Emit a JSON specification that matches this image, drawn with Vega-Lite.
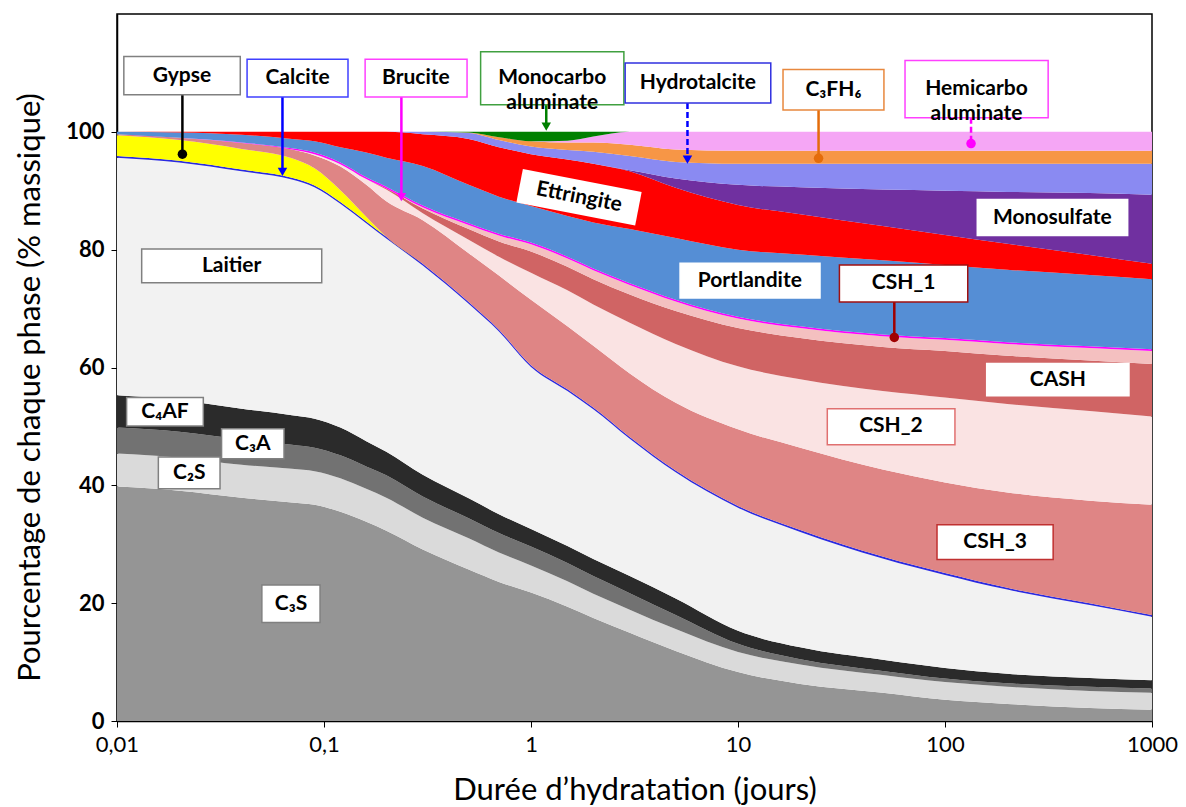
{
"$schema":"https://vega.github.io/schema/vega-lite/v6.json",
"width":1035,"height":707,"autosize":"none",
"padding":{"left":117,"top":14,"right":34,"bottom":86},
"background":"white",
"config":{"view":{"stroke":"#000","strokeWidth":1.5},"font":"Lato"},
"datasets":{
"phases":[{"p":"C3S","k":1},{"p":"C2S","k":2},{"p":"C3A","k":3},{"p":"C4AF","k":4},{"p":"Laitier","k":5},{"p":"Calcite","k":6},{"p":"Gypse","k":7},{"p":"CSH_3","k":8},{"p":"CSH_2","k":9},{"p":"CASH","k":10},{"p":"CSH_1","k":11},{"p":"Brucite","k":12},{"p":"Portlandite","k":13},{"p":"Ettringite","k":14},{"p":"Monosulfate","k":15},{"p":"Hydrotalcite","k":16},{"p":"C3FH6","k":17},{"p":"Hemicarbo","k":18},{"p":"Monocarbo","k":19}],
"labels":[
{"name":"Gypse","text":"Gypse","t0":0.01079,"t1":0.0394,"y0":106.3,"y1":112.8,"tx":0.0206,"ty":109.5},
{"name":"Calcite","text":"Calcite","t0":0.0425,"t1":0.1306,"y0":105.9,"y1":112.3,"tx":0.0745,"ty":109.1},
{"name":"Brucite","text":"Brucite","t0":0.158,"t1":0.491,"y0":105.9,"y1":112.3,"tx":0.278,"ty":109.1},
{"name":"Monocarbo","text":"Monocarbo\naluminate","t0":0.571,"t1":2.81,"y0":104.6,"y1":113.6,"tx":1.266,"ty":109.1},
{"name":"Hydrotalcite","text":"Hydrotalcite","t0":2.85,"t1":14.4,"y0":104.9,"y1":111.7,"tx":6.4,"ty":108.3},
{"name":"C3FH6","text":"C₃FH₆","t0":16.5,"t1":50.7,"y0":103.7,"y1":110.6,"tx":28.9,"ty":107.1},
{"name":"Hemicarbo","text":"Hemicarbo\naluminate","t0":64.1,"t1":315,"y0":102.4,"y1":112.1,"tx":142,"ty":107.3},
{"name":"Laitier","text":"Laitier","t0":0.01316,"t1":0.0975,"y0":74.4,"y1":80.1,"tx":0.0358,"ty":77.3},
{"name":"Portlandite","text":"Portlandite","t0":5.25,"t1":24.9,"y0":71.8,"y1":77.7,"tx":11.4,"ty":74.7},
{"name":"CSH_1","text":"CSH_1","t0":30.9,"t1":128.8,"y0":71.1,"y1":77.4,"tx":63.1,"ty":74.3},
{"name":"Monosulfate","text":"Monosulfate","t0":143.2,"t1":763,"y0":82.4,"y1":88.5,"tx":330,"ty":85.4},
{"name":"CASH","text":"CASH","t0":159,"t1":774,"y0":55.2,"y1":60.7,"tx":351,"ty":57.9},
{"name":"CSH_2","text":"CSH_2","t0":27.0,"t1":111.7,"y0":46.9,"y1":53.0,"tx":54.8,"ty":50.0},
{"name":"CSH_3","text":"CSH_3","t0":91.5,"t1":333,"y0":27.4,"y1":33.3,"tx":174.6,"ty":30.4},
{"name":"C4AF","text":"C₄AF","t0":0.01113,"t1":0.02612,"y0":50.05,"y1":54.9,"tx":0.01706,"ty":52.5},
{"name":"C3A","text":"C₃A","t0":0.032,"t1":0.0641,"y0":44.5,"y1":49.6,"tx":0.0453,"ty":47.1},
{"name":"C2S","text":"C₂S","t0":0.01584,"t1":0.03146,"y0":39.4,"y1":44.8,"tx":0.02233,"ty":42.1},
{"name":"C3S","text":"C₃S","t0":0.0501,"t1":0.0957,"y0":16.7,"y1":23.1,"tx":0.0693,"ty":19.9}
],
"leaders":[
{"name":"Gypse","t":0.0207,"ya":106.3,"yb":96.2,"end":"dot"},
{"name":"Calcite","t":0.063,"ya":105.9,"yb":93.2,"end":"arrow"},
{"name":"Brucite","t":0.2365,"ya":105.9,"yb":88.9,"end":"arrow"},
{"name":"Monocarbo","t":1.185,"ya":104.6,"yb":100.9,"end":"arrow"},
{"name":"Hydrotalcite","t":5.7,"ya":104.9,"yb":95.3,"end":"arrow"},
{"name":"C3FH6","t":24.5,"ya":103.7,"yb":95.5,"end":"dot"},
{"name":"Hemicarbo","t":133.6,"ya":102.4,"yb":98.0,"end":"dot"},
{"name":"CSH_1","t":56.9,"ya":71.1,"yb":65.1,"end":"dot"}
],
"ett":[{"t":1.706,"v":88.9,"text":"Ettringite"}]
},
"layer":[
{
"data":{"values":[
{"t":0.01,"p":"C3S","v":39.8},{"t":0.01,"p":"C2S","v":5.6},{"t":0.01,"p":"C3A","v":4.4},{"t":0.01,"p":"C4AF","v":5.5},{"t":0.01,"p":"Laitier","v":40.3},{"t":0.01,"p":"Calcite","v":0.3},{"t":0.01,"p":"Gypse","v":3.5},{"t":0.01,"p":"CSH_3","v":0.2},{"t":0.01,"p":"CSH_2","v":0},{"t":0.01,"p":"CASH","v":0},{"t":0.01,"p":"CSH_1","v":0},{"t":0.01,"p":"Brucite","v":0},{"t":0.01,"p":"Portlandite","v":0.4},{"t":0.01,"p":"Ettringite","v":0},{"t":0.01,"p":"Monosulfate","v":0},{"t":0.01,"p":"Hydrotalcite","v":0},{"t":0.01,"p":"C3FH6","v":0},{"t":0.01,"p":"Hemicarbo","v":0},{"t":0.01,"p":"Monocarbo","v":0},
{"t":0.02,"p":"C3S","v":39.1},{"t":0.02,"p":"C2S","v":5.6},{"t":0.02,"p":"C3A","v":4.4},{"t":0.02,"p":"C4AF","v":5.4},{"t":0.02,"p":"Laitier","v":40.3},{"t":0.02,"p":"Calcite","v":0.3},{"t":0.02,"p":"Gypse","v":3.5},{"t":0.02,"p":"CSH_3","v":0.4},{"t":0.02,"p":"CSH_2","v":0},{"t":0.02,"p":"CASH","v":0},{"t":0.02,"p":"CSH_1","v":0},{"t":0.02,"p":"Brucite","v":0},{"t":0.02,"p":"Portlandite","v":0.9},{"t":0.02,"p":"Ettringite","v":0.1},{"t":0.02,"p":"Monosulfate","v":0},{"t":0.02,"p":"Hydrotalcite","v":0},{"t":0.02,"p":"C3FH6","v":0},{"t":0.02,"p":"Hemicarbo","v":0},{"t":0.02,"p":"Monocarbo","v":0},
{"t":0.04,"p":"C3S","v":37.9},{"t":0.04,"p":"C2S","v":5.6},{"t":0.04,"p":"C3A","v":4.3},{"t":0.04,"p":"C4AF","v":5.2},{"t":0.04,"p":"Laitier","v":40.3},{"t":0.04,"p":"Calcite","v":0.3},{"t":0.04,"p":"Gypse","v":3.5},{"t":0.04,"p":"CSH_3","v":1.0},{"t":0.04,"p":"CSH_2","v":0},{"t":0.04,"p":"CASH","v":0},{"t":0.04,"p":"CSH_1","v":0},{"t":0.04,"p":"Brucite","v":0.1},{"t":0.04,"p":"Portlandite","v":1.3},{"t":0.04,"p":"Ettringite","v":0.5},{"t":0.04,"p":"Monosulfate","v":0},{"t":0.04,"p":"Hydrotalcite","v":0},{"t":0.04,"p":"C3FH6","v":0},{"t":0.04,"p":"Hemicarbo","v":0},{"t":0.04,"p":"Monocarbo","v":0},
{"t":0.07,"p":"C3S","v":37.1},{"t":0.07,"p":"C2S","v":5.7},{"t":0.07,"p":"C3A","v":4.1},{"t":0.07,"p":"C4AF","v":5.0},{"t":0.07,"p":"Laitier","v":40.0},{"t":0.07,"p":"Calcite","v":0.3},{"t":0.07,"p":"Gypse","v":3.3},{"t":0.07,"p":"CSH_3","v":1.5},{"t":0.07,"p":"CSH_2","v":0},{"t":0.07,"p":"CASH","v":0},{"t":0.07,"p":"CSH_1","v":0},{"t":0.07,"p":"Brucite","v":0.2},{"t":0.07,"p":"Portlandite","v":1.6},{"t":0.07,"p":"Ettringite","v":1.2},{"t":0.07,"p":"Monosulfate","v":0},{"t":0.07,"p":"Hydrotalcite","v":0},{"t":0.07,"p":"C3FH6","v":0},{"t":0.07,"p":"Hemicarbo","v":0},{"t":0.07,"p":"Monocarbo","v":0},
{"t":0.09,"p":"C3S","v":36.7},{"t":0.09,"p":"C2S","v":5.7},{"t":0.09,"p":"C3A","v":4.0},{"t":0.09,"p":"C4AF","v":4.9},{"t":0.09,"p":"Laitier","v":39.3},{"t":0.09,"p":"Calcite","v":0.3},{"t":0.09,"p":"Gypse","v":2.9},{"t":0.09,"p":"CSH_3","v":2.2},{"t":0.09,"p":"CSH_2","v":0.2},{"t":0.09,"p":"CASH","v":0},{"t":0.09,"p":"CSH_1","v":0},{"t":0.09,"p":"Brucite","v":0.3},{"t":0.09,"p":"Portlandite","v":1.9},{"t":0.09,"p":"Ettringite","v":1.6},{"t":0.09,"p":"Monosulfate","v":0},{"t":0.09,"p":"Hydrotalcite","v":0},{"t":0.09,"p":"C3FH6","v":0},{"t":0.09,"p":"Hemicarbo","v":0},{"t":0.09,"p":"Monocarbo","v":0},
{"t":0.12,"p":"C3S","v":35.5},{"t":0.12,"p":"C2S","v":5.7},{"t":0.12,"p":"C3A","v":3.9},{"t":0.12,"p":"C4AF","v":4.7},{"t":0.12,"p":"Laitier","v":38.0},{"t":0.12,"p":"Calcite","v":0.3},{"t":0.12,"p":"Gypse","v":2.0},{"t":0.12,"p":"CSH_3","v":4.0},{"t":0.12,"p":"CSH_2","v":0.4},{"t":0.12,"p":"CASH","v":0},{"t":0.12,"p":"CSH_1","v":0},{"t":0.12,"p":"Brucite","v":0.3},{"t":0.12,"p":"Portlandite","v":2.6},{"t":0.12,"p":"Ettringite","v":2.6},{"t":0.12,"p":"Monosulfate","v":0},{"t":0.12,"p":"Hydrotalcite","v":0},{"t":0.12,"p":"C3FH6","v":0},{"t":0.12,"p":"Hemicarbo","v":0},{"t":0.12,"p":"Monocarbo","v":0},
{"t":0.16,"p":"C3S","v":33.8},{"t":0.16,"p":"C2S","v":5.6},{"t":0.16,"p":"C3A","v":3.8},{"t":0.16,"p":"C4AF","v":4.3},{"t":0.16,"p":"Laitier","v":37.0},{"t":0.16,"p":"Calcite","v":0.3},{"t":0.16,"p":"Gypse","v":0.8},{"t":0.16,"p":"CSH_3","v":5.4},{"t":0.16,"p":"CSH_2","v":1.0},{"t":0.16,"p":"CASH","v":0},{"t":0.16,"p":"CSH_1","v":0},{"t":0.16,"p":"Brucite","v":0.3},{"t":0.16,"p":"Portlandite","v":4.2},{"t":0.16,"p":"Ettringite","v":3.5},{"t":0.16,"p":"Monosulfate","v":0},{"t":0.16,"p":"Hydrotalcite","v":0},{"t":0.16,"p":"C3FH6","v":0},{"t":0.16,"p":"Hemicarbo","v":0},{"t":0.16,"p":"Monocarbo","v":0},
{"t":0.2,"p":"C3S","v":32.3},{"t":0.2,"p":"C2S","v":5.6},{"t":0.2,"p":"C3A","v":3.8},{"t":0.2,"p":"C4AF","v":4.0},{"t":0.2,"p":"Laitier","v":36.2},{"t":0.2,"p":"Calcite","v":0.3},{"t":0.2,"p":"Gypse","v":0},{"t":0.2,"p":"CSH_3","v":6.0},{"t":0.2,"p":"CSH_2","v":2.0},{"t":0.2,"p":"CASH","v":0.2},{"t":0.2,"p":"CSH_1","v":0},{"t":0.2,"p":"Brucite","v":0.3},{"t":0.2,"p":"Portlandite","v":4.9},{"t":0.2,"p":"Ettringite","v":4.4},{"t":0.2,"p":"Monosulfate","v":0},{"t":0.2,"p":"Hydrotalcite","v":0},{"t":0.2,"p":"C3FH6","v":0},{"t":0.2,"p":"Hemicarbo","v":0},{"t":0.2,"p":"Monocarbo","v":0},
{"t":0.3,"p":"C3S","v":29.1},{"t":0.3,"p":"C2S","v":5.4},{"t":0.3,"p":"C3A","v":3.6},{"t":0.3,"p":"C4AF","v":3.7},{"t":0.3,"p":"Laitier","v":35.5},{"t":0.3,"p":"Calcite","v":0.3},{"t":0.3,"p":"Gypse","v":0},{"t":0.3,"p":"CSH_3","v":7.4},{"t":0.3,"p":"CSH_2","v":1.2},{"t":0.3,"p":"CASH","v":0.8},{"t":0.3,"p":"CSH_1","v":0.2},{"t":0.3,"p":"Brucite","v":0.3},{"t":0.3,"p":"Portlandite","v":6.7},{"t":0.3,"p":"Ettringite","v":5.4},{"t":0.3,"p":"Monosulfate","v":0},{"t":0.3,"p":"Hydrotalcite","v":0.4},{"t":0.3,"p":"C3FH6","v":0},{"t":0.3,"p":"Hemicarbo","v":0},{"t":0.3,"p":"Monocarbo","v":0},
{"t":0.5,"p":"C3S","v":25.7},{"t":0.5,"p":"C2S","v":5.3},{"t":0.5,"p":"C3A","v":3.4},{"t":0.5,"p":"C4AF","v":3.4},{"t":0.5,"p":"Laitier","v":33.0},{"t":0.5,"p":"Calcite","v":0.3},{"t":0.5,"p":"Gypse","v":0},{"t":0.5,"p":"CSH_3","v":8.3},{"t":0.5,"p":"CSH_2","v":2.3},{"t":0.5,"p":"CASH","v":1.8},{"t":0.5,"p":"CSH_1","v":0.7},{"t":0.5,"p":"Brucite","v":0.3},{"t":0.5,"p":"Portlandite","v":6.5},{"t":0.5,"p":"Ettringite","v":7.8},{"t":0.5,"p":"Monosulfate","v":0},{"t":0.5,"p":"Hydrotalcite","v":1.0},{"t":0.5,"p":"C3FH6","v":0.1},{"t":0.5,"p":"Hemicarbo","v":0},{"t":0.5,"p":"Monocarbo","v":0.1},
{"t":0.7,"p":"C3S","v":23.6},{"t":0.7,"p":"C2S","v":5.0},{"t":0.7,"p":"C3A","v":3.3},{"t":0.7,"p":"C4AF","v":3.2},{"t":0.7,"p":"Laitier","v":31.0},{"t":0.7,"p":"Calcite","v":0.3},{"t":0.7,"p":"Gypse","v":0},{"t":0.7,"p":"CSH_3","v":9.2},{"t":0.7,"p":"CSH_2","v":3.2},{"t":0.7,"p":"CASH","v":2.6},{"t":0.7,"p":"CSH_1","v":1.0},{"t":0.7,"p":"Brucite","v":0.3},{"t":0.7,"p":"Portlandite","v":6.3},{"t":0.7,"p":"Ettringite","v":8.4},{"t":0.7,"p":"Monosulfate","v":0},{"t":0.7,"p":"Hydrotalcite","v":1.2},{"t":0.7,"p":"C3FH6","v":0.5},{"t":0.7,"p":"Hemicarbo","v":0},{"t":0.7,"p":"Monocarbo","v":0.9},
{"t":1,"p":"C3S","v":21.8},{"t":1,"p":"C2S","v":4.6},{"t":1,"p":"C3A","v":3.2},{"t":1,"p":"C4AF","v":3.0},{"t":1,"p":"Laitier","v":27.5},{"t":1,"p":"Calcite","v":0.3},{"t":1,"p":"Gypse","v":0},{"t":1,"p":"CSH_3","v":11.1},{"t":1,"p":"CSH_2","v":4.6},{"t":1,"p":"CASH","v":3.6},{"t":1,"p":"CSH_1","v":1.2},{"t":1,"p":"Brucite","v":0.3},{"t":1,"p":"Portlandite","v":6.2},{"t":1,"p":"Ettringite","v":8.8},{"t":1,"p":"Monosulfate","v":0},{"t":1,"p":"Hydrotalcite","v":1.3},{"t":1,"p":"C3FH6","v":0.9},{"t":1,"p":"Hemicarbo","v":0},{"t":1,"p":"Monocarbo","v":1.6},
{"t":1.5,"p":"C3S","v":19.4},{"t":1.5,"p":"C2S","v":4.3},{"t":1.5,"p":"C3A","v":3.1},{"t":1.5,"p":"C4AF","v":2.9},{"t":1.5,"p":"Laitier","v":26.3},{"t":1.5,"p":"Calcite","v":0.3},{"t":1.5,"p":"Gypse","v":0},{"t":1.5,"p":"CSH_3","v":10.7},{"t":1.5,"p":"CSH_2","v":6.1},{"t":1.5,"p":"CASH","v":4.0},{"t":1.5,"p":"CSH_1","v":1.4},{"t":1.5,"p":"Brucite","v":0.3},{"t":1.5,"p":"Portlandite","v":6.9},{"t":1.5,"p":"Ettringite","v":9.6},{"t":1.5,"p":"Monosulfate","v":0},{"t":1.5,"p":"Hydrotalcite","v":1.6},{"t":1.5,"p":"C3FH6","v":1.3},{"t":1.5,"p":"Hemicarbo","v":0.3},{"t":1.5,"p":"Monocarbo","v":1.5},
{"t":2,"p":"C3S","v":17.5},{"t":2,"p":"C2S","v":4.1},{"t":2,"p":"C3A","v":3.0},{"t":2,"p":"C4AF","v":2.9},{"t":2,"p":"Laitier","v":25.4},{"t":2,"p":"Calcite","v":0.3},{"t":2,"p":"Gypse","v":0},{"t":2,"p":"CSH_3","v":10.5},{"t":2,"p":"CSH_2","v":7.0},{"t":2,"p":"CASH","v":4.3},{"t":2,"p":"CSH_1","v":1.5},{"t":2,"p":"Brucite","v":0.3},{"t":2,"p":"Portlandite","v":7.8},{"t":2,"p":"Ettringite","v":10.0},{"t":2,"p":"Monosulfate","v":0},{"t":2,"p":"Hydrotalcite","v":2.0},{"t":2,"p":"C3FH6","v":1.6},{"t":2,"p":"Hemicarbo","v":1.0},{"t":2,"p":"Monocarbo","v":0.8},
{"t":3,"p":"C3S","v":15.0},{"t":3,"p":"C2S","v":3.9},{"t":3,"p":"C3A","v":2.8},{"t":3,"p":"C4AF","v":2.9},{"t":3,"p":"Laitier","v":23.3},{"t":3,"p":"Calcite","v":0.3},{"t":3,"p":"Gypse","v":0},{"t":3,"p":"CSH_3","v":10.8},{"t":3,"p":"CSH_2","v":8.6},{"t":3,"p":"CASH","v":4.8},{"t":3,"p":"CSH_1","v":1.6},{"t":3,"p":"Brucite","v":0.3},{"t":3,"p":"Portlandite","v":9.2},{"t":3,"p":"Ettringite","v":9.8},{"t":3,"p":"Monosulfate","v":0.2},{"t":3,"p":"Hydrotalcite","v":2.4},{"t":3,"p":"C3FH6","v":1.9},{"t":3,"p":"Hemicarbo","v":2.2},{"t":3,"p":"Monocarbo","v":0},
{"t":5,"p":"C3S","v":11.9},{"t":5,"p":"C2S","v":3.7},{"t":5,"p":"C3A","v":2.4},{"t":5,"p":"C4AF","v":2.8},{"t":5,"p":"Laitier","v":21.4},{"t":5,"p":"Calcite","v":0.3},{"t":5,"p":"Gypse","v":0},{"t":5,"p":"CSH_3","v":11.5},{"t":5,"p":"CSH_2","v":10.0},{"t":5,"p":"CASH","v":5.6},{"t":5,"p":"CSH_1","v":1.6},{"t":5,"p":"Brucite","v":0.3},{"t":5,"p":"Portlandite","v":10.5},{"t":5,"p":"Ettringite","v":8.5},{"t":5,"p":"Monosulfate","v":1.6},{"t":5,"p":"Hydrotalcite","v":2.8},{"t":5,"p":"C3FH6","v":2.1},{"t":5,"p":"Hemicarbo","v":3.0},{"t":5,"p":"Monocarbo","v":0},
{"t":10,"p":"C3S","v":8.3},{"t":10,"p":"C2S","v":3.4},{"t":10,"p":"C3A","v":1.4},{"t":10,"p":"C4AF","v":2.2},{"t":10,"p":"Laitier","v":20.9},{"t":10,"p":"Calcite","v":0.3},{"t":10,"p":"Gypse","v":0},{"t":10,"p":"CSH_3","v":13.0},{"t":10,"p":"CSH_2","v":10.7},{"t":10,"p":"CASH","v":6.5},{"t":10,"p":"CSH_1","v":1.6},{"t":10,"p":"Brucite","v":0.3},{"t":10,"p":"Portlandite","v":11.4},{"t":10,"p":"Ettringite","v":7.6},{"t":10,"p":"Monosulfate","v":3.4},{"t":10,"p":"Hydrotalcite","v":3.6},{"t":10,"p":"C3FH6","v":2.2},{"t":10,"p":"Hemicarbo","v":3.2},{"t":10,"p":"Monocarbo","v":0},
{"t":20,"p":"C3S","v":6.3},{"t":20,"p":"C2S","v":3.3},{"t":20,"p":"C3A","v":0.9},{"t":20,"p":"C4AF","v":2.0},{"t":20,"p":"Laitier","v":19.6},{"t":20,"p":"Calcite","v":0.3},{"t":20,"p":"Gypse","v":0},{"t":20,"p":"CSH_3","v":14.0},{"t":20,"p":"CSH_2","v":11.6},{"t":20,"p":"CASH","v":7.0},{"t":20,"p":"CSH_1","v":1.7},{"t":20,"p":"Brucite","v":0.3},{"t":20,"p":"Portlandite","v":12.2},{"t":20,"p":"Ettringite","v":6.8},{"t":20,"p":"Monosulfate","v":4.6},{"t":20,"p":"Hydrotalcite","v":4.0},{"t":20,"p":"C3FH6","v":2.2},{"t":20,"p":"Hemicarbo","v":3.2},{"t":20,"p":"Monocarbo","v":0},
{"t":50,"p":"C3S","v":4.8},{"t":50,"p":"C2S","v":3.0},{"t":50,"p":"C3A","v":0.7},{"t":50,"p":"C4AF","v":1.9},{"t":50,"p":"Laitier","v":17.2},{"t":50,"p":"Calcite","v":0.3},{"t":50,"p":"Gypse","v":0},{"t":50,"p":"CSH_3","v":14.8},{"t":50,"p":"CSH_2","v":13.3},{"t":50,"p":"CASH","v":7.5},{"t":50,"p":"CSH_1","v":1.8},{"t":50,"p":"Brucite","v":0.3},{"t":50,"p":"Portlandite","v":12.6},{"t":50,"p":"Ettringite","v":5.8},{"t":50,"p":"Monosulfate","v":6.2},{"t":50,"p":"Hydrotalcite","v":4.4},{"t":50,"p":"C3FH6","v":2.2},{"t":50,"p":"Hemicarbo","v":3.2},{"t":50,"p":"Monocarbo","v":0},
{"t":100,"p":"C3S","v":3.6},{"t":100,"p":"C2S","v":3.0},{"t":100,"p":"C3A","v":0.6},{"t":100,"p":"C4AF","v":1.8},{"t":100,"p":"Laitier","v":15.8},{"t":100,"p":"Calcite","v":0.3},{"t":100,"p":"Gypse","v":0},{"t":100,"p":"CSH_3","v":15.4},{"t":100,"p":"CSH_2","v":14.4},{"t":100,"p":"CASH","v":7.9},{"t":100,"p":"CSH_1","v":1.9},{"t":100,"p":"Brucite","v":0.3},{"t":100,"p":"Portlandite","v":12.4},{"t":100,"p":"Ettringite","v":5.1},{"t":100,"p":"Monosulfate","v":7.5},{"t":100,"p":"Hydrotalcite","v":4.6},{"t":100,"p":"C3FH6","v":2.2},{"t":100,"p":"Hemicarbo","v":3.2},{"t":100,"p":"Monocarbo","v":0},
{"t":200,"p":"C3S","v":2.9},{"t":200,"p":"C2S","v":2.9},{"t":200,"p":"C3A","v":0.6},{"t":200,"p":"C4AF","v":1.6},{"t":200,"p":"Laitier","v":14.3},{"t":200,"p":"Calcite","v":0.3},{"t":200,"p":"Gypse","v":0},{"t":200,"p":"CSH_3","v":16.2},{"t":200,"p":"CSH_2","v":15.0},{"t":200,"p":"CASH","v":8.2},{"t":200,"p":"CSH_1","v":2.0},{"t":200,"p":"Brucite","v":0.3},{"t":200,"p":"Portlandite","v":12.3},{"t":200,"p":"Ettringite","v":4.4},{"t":200,"p":"Monosulfate","v":8.8},{"t":200,"p":"Hydrotalcite","v":4.8},{"t":200,"p":"C3FH6","v":2.2},{"t":200,"p":"Hemicarbo","v":3.2},{"t":200,"p":"Monocarbo","v":0},
{"t":500,"p":"C3S","v":2.2},{"t":500,"p":"C2S","v":2.9},{"t":500,"p":"C3A","v":0.7},{"t":500,"p":"C4AF","v":1.5},{"t":500,"p":"Laitier","v":12.4},{"t":500,"p":"Calcite","v":0.3},{"t":500,"p":"Gypse","v":0},{"t":500,"p":"CSH_3","v":17.4},{"t":500,"p":"CSH_2","v":15.2},{"t":500,"p":"CASH","v":8.6},{"t":500,"p":"CSH_1","v":2.1},{"t":500,"p":"Brucite","v":0.3},{"t":500,"p":"Portlandite","v":12.1},{"t":500,"p":"Ettringite","v":3.4},{"t":500,"p":"Monosulfate","v":10.5},{"t":500,"p":"Hydrotalcite","v":5.0},{"t":500,"p":"C3FH6","v":2.2},{"t":500,"p":"Hemicarbo","v":3.2},{"t":500,"p":"Monocarbo","v":0},
{"t":1000,"p":"C3S","v":1.9},{"t":1000,"p":"C2S","v":2.9},{"t":1000,"p":"C3A","v":0.7},{"t":1000,"p":"C4AF","v":1.4},{"t":1000,"p":"Laitier","v":10.8},{"t":1000,"p":"Calcite","v":0.3},{"t":1000,"p":"Gypse","v":0},{"t":1000,"p":"CSH_3","v":18.7},{"t":1000,"p":"CSH_2","v":15.0},{"t":1000,"p":"CASH","v":8.9},{"t":1000,"p":"CSH_1","v":2.2},{"t":1000,"p":"Brucite","v":0.3},{"t":1000,"p":"Portlandite","v":11.9},{"t":1000,"p":"Ettringite","v":2.6},{"t":1000,"p":"Monosulfate","v":11.7},{"t":1000,"p":"Hydrotalcite","v":5.3},{"t":1000,"p":"C3FH6","v":2.2},{"t":1000,"p":"Hemicarbo","v":3.2},{"t":1000,"p":"Monocarbo","v":0}
]},
"transform":[{"lookup":"p","from":{"data":{"name":"phases"},"key":"p","fields":["k"]}}],
"mark":{"type":"area","interpolate":"monotone"},
"encoding":{
"x":{"field":"t","type":"quantitative","scale":{"type":"log","domain":[0.01,1000],"nice":false},
 "axis":{"values":[0.01,0.1,1,10,100,1000],"labelExpr":"replace(format(datum.value,'~g'),'.',',')","title":"Durée d’hydratation (jours)","titleFont":"Lato","titleFontSize":31,"titleFontWeight":"normal","titleColor":"#000","titleY":69,"titleBaseline":"middle","labelFont":"Lato","labelFontSize":22,"labelColor":"#000","labelPadding":7,"labelFlush":false,"labelOverlap":false,"tickColor":"#000","tickSize":6,"domainColor":"#000","domainWidth":1.5,"grid":false}},
"y":{"field":"v","type":"quantitative","stack":"zero","scale":{"domain":[0,120],"nice":false},
 "axis":{"values":[0,20,40,60,80,100],"title":"Pourcentage de chaque phase (% massique)","titleFont":"Lato","titleFontSize":31,"titleFontWeight":"normal","titleColor":"#000","titleX":-87,"titleY":373,"titleAngle":-90,"titleBaseline":"middle","titleAlign":"center","labelFont":"Lato","labelFontSize":22,"labelFontWeight":"bold","labelColor":"#000","labelPadding":7,"tickColor":"#000","tickSize":6,"domainColor":"#000","domainWidth":1.5,"grid":false}},
"fill":{"field":"p","type":"nominal","legend":null,"scale":{"domain":["C3S","C2S","C3A","C4AF","Laitier","Calcite","Gypse","CSH_3","CSH_2","CASH","CSH_1","Brucite","Portlandite","Ettringite","Monosulfate","Hydrotalcite","C3FH6","Hemicarbo","Monocarbo"],"range":["#959595","#dadada","#727272","#2b2b2b","#f2f2f2","#2a2ae0","#ffff00","#df8585","#fae3e3","#d06464","#f4c0c0","#ff00ff","#558ed5","#ff0000","#7030a0","#8a8af2","#f79646","#f5a6f5","#008000"]}},
"order":{"field":"k","type":"quantitative"}
}
},
{"mark":{"type":"rule","color":"#00a000","strokeWidth":1.2},"encoding":{"y":{"datum":100}}},
{
"data":{"name":"leaders"},
"mark":{"type":"rule","strokeWidth":2.5},
"encoding":{
"x":{"field":"t","type":"quantitative"},
"y":{"field":"ya","type":"quantitative"},
"y2":{"field":"yb"},
"stroke":{"field":"name","type":"nominal","legend":null,"scale":{"domain":["Gypse","Calcite","Brucite","Monocarbo","Hydrotalcite","C3FH6","Hemicarbo","CSH_1"],"range":["#000000","#0000ff","#ff00ff","#008000","#0000ff","#e46c0a","#ff00ff","#a00000"]}},
"strokeDash":{"condition":{"test":"datum.name==='Hydrotalcite' || datum.name==='Hemicarbo'","value":[6,3]},"value":[1,0]}
}
},
{
"data":{"name":"leaders"},
"mark":{"type":"point","filled":true,"opacity":1,"size":90},
"encoding":{
"x":{"field":"t","type":"quantitative"},
"y":{"field":"yb","type":"quantitative"},
"fill":{"field":"name","type":"nominal","legend":null,"scale":{"domain":["Gypse","Calcite","Brucite","Monocarbo","Hydrotalcite","C3FH6","Hemicarbo","CSH_1"],"range":["#000000","#0000ff","#ff00ff","#008000","#0000ff","#e46c0a","#ff00ff","#a00000"]}},
"shape":{"condition":{"test":"datum.end==='dot'","value":"circle"},"value":"triangle-down"}
}
},
{
"data":{"name":"labels"},
"mark":{"type":"rect","fill":"white","strokeWidth":1.5},
"encoding":{
"x":{"field":"t0","type":"quantitative"},
"x2":{"field":"t1"},
"y":{"field":"y0","type":"quantitative"},
"y2":{"field":"y1"},
"stroke":{"field":"name","type":"nominal","legend":null,"scale":{"domain":["Gypse","Calcite","Brucite","Monocarbo","Hydrotalcite","C3FH6","Hemicarbo","Laitier","Portlandite","CSH_1","Monosulfate","CASH","CSH_2","CSH_3","C4AF","C3A","C2S","C3S"],"range":["#808080","#4040ff","#ff40ff","#40a040","#3030e0","#e8883e","#ff40ff","#808080","#ffffff","#a01010","#ffffff","#ffffff","#e07070","#c03030","#808080","#808080","#808080","#808080"]}},
"strokeDash":{"condition":{"test":"datum.name==='Hydrotalcite' || datum.name==='Hemicarbo'","value":[3,2]},"value":[1,0]}
}
},
{
"data":{"name":"labels"},
"mark":{"type":"text","font":"Lato","fontSize":21,"fontWeight":"bold","color":"#000","lineBreak":"\n","lineHeight":25,"baseline":"middle","align":"center"},
"encoding":{
"x":{"field":"tx","type":"quantitative"},
"y":{"field":"ty","type":"quantitative"},
"text":{"field":"text"}
}
},
{
"data":{"name":"ett"},
"mark":{"type":"point","shape":"M-1,-0.281L1,-0.281L1,0.281L-1,0.281Z","size":14641,"angle":11,"filled":true,"fill":"white","opacity":1,"strokeWidth":0},
"encoding":{"x":{"field":"t","type":"quantitative"},"y":{"field":"v","type":"quantitative"}}
},
{
"data":{"name":"ett"},
"mark":{"type":"text","font":"Lato","fontSize":21,"fontWeight":"bold","color":"#000","angle":11,"baseline":"middle","align":"center"},
"encoding":{"x":{"field":"t","type":"quantitative"},"y":{"field":"v","type":"quantitative"},"text":{"field":"text"}}
}
],
"resolve":{"scale":{"fill":"independent","stroke":"independent","shape":"independent","strokeDash":"independent"}}
}
